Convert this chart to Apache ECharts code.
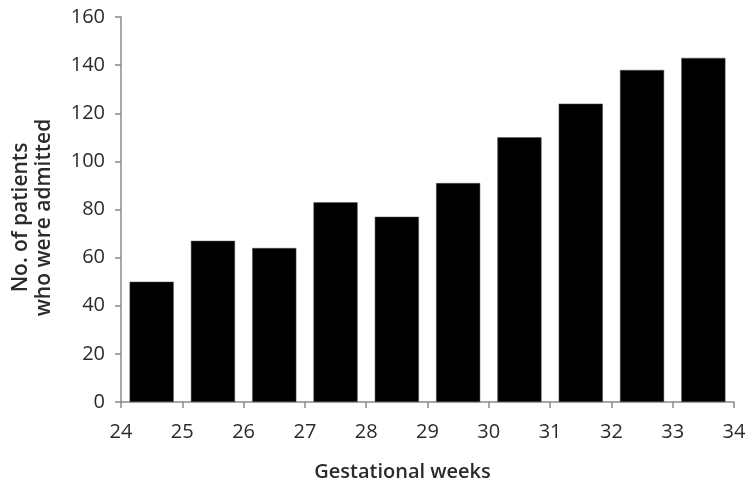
<!DOCTYPE html>
<html>
<head>
<meta charset="utf-8">
<script src="https://cdn.jsdelivr.net/npm/echarts@6/dist/echarts.min.js"></script>
<style>html,body{margin:0;padding:0;background:#fff}#c{width:751px;height:493px}</style>
</head>
<body>
<div id="c"></div>
<script>
var weeks = ["24", "25", "26", "27", "28", "29", "30", "31", "32", "33"];
var admitted = [50, 67, 64, 83, 77, 91, 110, 124, 138, 143];
var xTicks = [24, 25, 26, 27, 28, 29, 30, 31, 32, 33, 34];
var yTicks = [0, 20, 40, 60, 80, 100, 120, 140, 160];

var font = "'Open Sans', 'Noto Sans', sans-serif";
var axisColor = '#8a8a8a';
var textColor = '#2b2b2b';

var chart = echarts.init(document.getElementById('c'), null, {renderer: 'canvas'});
chart.setOption({
  animation: false,
  grid: {left: 121, right: 17, top: 17, bottom: 91, containLabel: false, outerBoundsMode: 'none'},
  xAxis: [{
    type: 'category',
    data: weeks,
    show: false,
    boundaryGap: true
  }, {
    type: 'value',
    position: 'bottom',
    min: xTicks[0],
    max: xTicks[xTicks.length - 1],
    interval: 1,
    name: 'Gestational weeks',
    nameLocation: 'middle',
    nameGap: 60,
    nameTextStyle: {fontFamily: font, fontSize: 20, fontWeight: 600, color: textColor, padding: [0, 50, 0, 0]},
    axisLine: {show: true, lineStyle: {color: axisColor, width: 1.5}},
    axisTick: {show: true, length: 6, lineStyle: {color: axisColor, width: 1.5}},
    axisLabel: {fontFamily: font, fontSize: 20, color: textColor, margin: 20},
    splitLine: {show: false}
  }],
  yAxis: {
    type: 'value',
    min: yTicks[0],
    max: yTicks[yTicks.length - 1],
    interval: 20,
    name: 'No. of patients\nwho were admitted',
    nameLocation: 'middle',
    nameRotate: 90,
    nameGap: 65,
    nameTextStyle: {fontFamily: font, fontSize: 21, fontWeight: 600, color: textColor, lineHeight: 23, align: 'center', padding: [0, 16, 0, 0]},
    axisLine: {show: true, lineStyle: {color: axisColor, width: 1.5}},
    axisTick: {show: true, length: 6, lineStyle: {color: axisColor, width: 1.5}},
    axisLabel: {fontFamily: font, fontSize: 20, color: textColor, margin: 16},
    splitLine: {show: false}
  },
  series: [{
    type: 'bar',
    xAxisIndex: 0,
    data: admitted,
    barWidth: '72%',
    itemStyle: {color: '#000', borderColor: '#555', borderWidth: 0.5}
  }]
});
</script>
</body>
</html>
